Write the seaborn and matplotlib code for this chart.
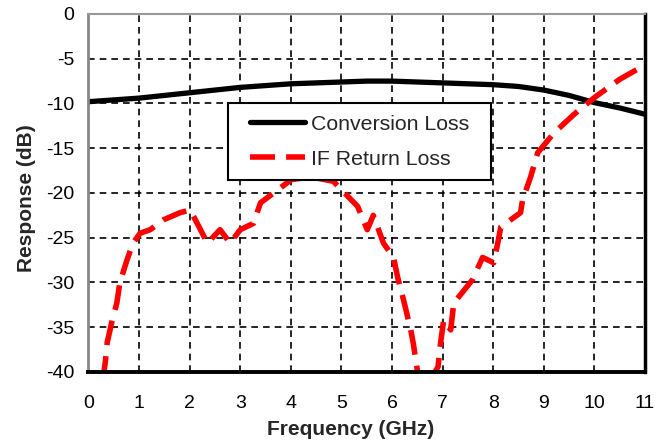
import matplotlib
matplotlib.use("Agg")
import matplotlib.pyplot as plt
from matplotlib.lines import Line2D
from matplotlib.legend_handler import HandlerLine2D
import seaborn as sns
import pandas as pd

# Conversion loss (dB) vs frequency (GHz)
conv_freq = [0.0, 0.5, 1.0, 1.5, 2.0, 2.5, 3.0, 3.5, 4.0, 4.5, 5.0, 5.5, 6.0,
             6.5, 7.0, 7.5, 8.0, 8.5, 9.0, 9.5, 10.0, 10.5, 11.0]
conv_loss = [-9.8, -9.6, -9.4, -9.1, -8.8, -8.5, -8.2, -8.0, -7.8, -7.7, -7.6,
             -7.5, -7.5, -7.6, -7.7, -7.8, -7.9, -8.1, -8.5, -9.1, -9.9,
             -10.5, -11.2]

# IF return loss (dB) vs frequency (GHz)
if_freq = [0.28, 0.33, 0.37, 0.47, 0.56, 0.62, 0.76, 0.88, 1.02, 1.22, 1.48,
           1.81, 2.01, 2.15, 2.35, 2.60, 2.80, 3.00, 3.26, 3.40, 3.73, 4.01,
           4.40, 4.84, 5.32, 5.51, 5.63, 5.83, 6.03, 6.11, 6.23, 6.37, 6.42,
           6.50, 6.66, 6.91, 6.95, 7.02, 7.16, 7.22, 7.59, 7.79, 8.01, 8.10,
           8.15, 8.54, 8.58, 8.74, 8.88, 9.20, 9.60, 10.01, 10.50, 11.0]
if_loss = [-41.0, -39.0, -36.7, -34.2, -32.3, -30.0, -27.5, -25.6, -24.5,
           -24.1, -23.0, -22.2, -21.9, -23.4, -25.6, -24.1, -25.6, -24.1,
           -23.4, -21.1, -19.7, -18.5, -18.2, -18.7, -21.5, -24.1, -22.5,
           -25.6, -27.2, -29.4, -32.0, -35.3, -36.8, -39.8, -42.0, -39.4,
           -37.2, -34.2, -35.3, -32.3, -29.7, -27.2, -27.8, -25.3, -23.8,
           -22.2, -20.8, -18.2, -15.5, -13.3, -11.2, -9.3, -7.3, -5.7]

x_ticks = list(range(0, 12))
y_ticks = list(range(-40, 1, 5))

conv_df = pd.DataFrame({"Frequency": conv_freq, "Response": conv_loss})
if_df = pd.DataFrame({"Frequency": if_freq, "Response": if_loss})

sns.set_style("white")
plt.rcParams["font.family"] = ["Liberation Sans", "DejaVu Sans"]
plt.rcParams["axes.unicode_minus"] = False

fig = plt.figure(figsize=(6.57, 4.44), dpi=100)
ax = fig.add_axes([0.1347, 0.1622, 0.8470, 0.8063])

sns.lineplot(data=conv_df, x="Frequency", y="Response", ax=ax,
             color="black", linewidth=3.8, estimator=None, sort=False,
             label="Conversion Loss")
sns.lineplot(data=if_df, x="Frequency", y="Response", ax=ax,
             color="#ff0000", linewidth=4.0, estimator=None, sort=False,
             linestyle=(0, (4.5, 2.0)), label="IF Return Loss")

ax.set_xlim(0, 11)
ax.set_ylim(-40, 0)
ax.set_xticks(x_ticks)
ax.set_yticks(y_ticks)
ax.tick_params(axis="both", labelsize=14, colors="black")
ax.tick_params(axis="y", length=4.3, width=1.2, color="#777777",
               direction="out", pad=6)
ax.tick_params(axis="x", length=0, pad=16.5)

ax.grid(True, color="black", linestyle=(0, (4, 3)), linewidth=1.2)
ax.set_axisbelow(True)

ax.set_xlabel("Frequency (GHz)", fontsize=15, fontweight="bold", labelpad=6,
              x=0.4717)
ax.set_ylabel("Response (dB)", fontsize=15, fontweight="bold", labelpad=7,
              y=0.487)

for side, col, lw in [("left", "#888888", 2.0), ("top", "#999999", 1.5),
                      ("right", "black", 2.5), ("bottom", "black", 2.8)]:
    ax.spines[side].set_visible(True)
    ax.spines[side].set_color(col)
    ax.spines[side].set_linewidth(lw)

leg = ax.legend(loc="upper left", bbox_to_anchor=(0.2507, 0.5, 0.4726, 0.2514),
                mode="expand", fontsize=15.3, frameon=True, fancybox=False,
                shadow=False, handlelength=3.05, borderpad=0.55,
                labelspacing=0.75, handletextpad=0.3, framealpha=1,
                borderaxespad=0,
                handler_map={Line2D: HandlerLine2D(xpad=0.5)})
leg.get_frame().set_edgecolor("black")
leg.get_frame().set_linewidth(1.5)

fig.savefig("out.png", dpi=100)
